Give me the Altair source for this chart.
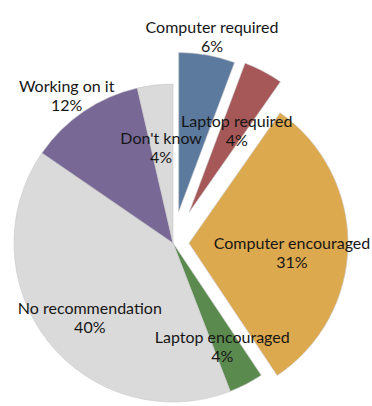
import math
import altair as alt
import pandas as pd

# ---- data ----
categories = ["Computer required", "Laptop required", "Computer encouraged",
              "Laptop encouraged", "No recommendation", "Working on it", "Don't know"]
values = [5.7, 4.0, 30.9, 3.5, 40.4, 11.8, 3.6]

# ---- style / layout ----
colors = ["#5b7a9e", "#a65757", "#dda94e", "#5b8a4f", "#dadada", "#776896", "#dadada"]
explode = [32, 35, 16, 0, 0, 0, 0]          # px offset of exploded slices
label_r = [187, 102, 103, 107, 106, 189, 105]  # px distance of label from slice tip
W, H = 372, 406
CX, CY, R = 173, 243, 159

total = sum(values)
rows = []
cum = 0.0
for cat, v, ex, lr in zip(categories, values, explode, label_r):
    start, end = cum, cum + v
    cum = end
    mid = (start + end) / 2 / total * 2 * math.pi
    sx, sy = math.sin(mid), -math.cos(mid)
    cx, cy = CX + ex * sx, CY + ex * sy
    rows.append({
        "category": cat, "start": start, "end": end,
        "cx": cx, "cy": cy,
        "lx": cx + lr * sx, "ly": cy + lr * sy,
        "label": f"{cat}\n{round(v)}%",
    })
df = pd.DataFrame(rows)

xs = alt.Scale(domain=[0, W], nice=False, zero=False)
ys = alt.Scale(domain=[H, 0], nice=False, zero=False)

base = alt.Chart(df)

arcs = base.mark_arc(radius=R, stroke="#c8c8c8", strokeWidth=0.6).encode(
    x=alt.X("cx:Q", scale=xs, axis=None),
    y=alt.Y("cy:Q", scale=ys, axis=None),
    theta=alt.Theta("start:Q", scale=alt.Scale(domain=[0, total], range=[0, 2 * math.pi])),
    theta2="end:Q",
    color=alt.Color("category:N", scale=alt.Scale(domain=categories, range=colors), legend=None),
)

labels = base.mark_text(
    font="Lato", fontSize=16, color="#161616", lineBreak="\n", lineHeight=19,
    align="center", baseline="middle",
).encode(
    x=alt.X("lx:Q", scale=xs, axis=None),
    y=alt.Y("ly:Q", scale=ys, axis=None),
    text="label:N",
)

chart = alt.layer(arcs, labels).properties(
    width=W, height=H, padding=0,
    autosize=alt.AutoSizeParams(type="none"),
    background="white",
).configure_view(stroke=None)

chart.save("out.html", embed_options={"renderer": "svg", "actions": False})
